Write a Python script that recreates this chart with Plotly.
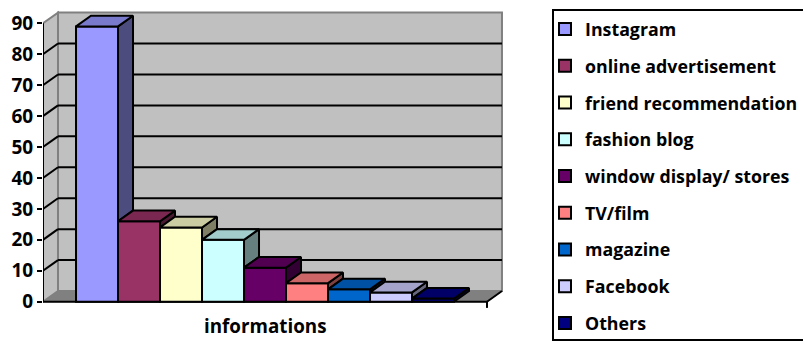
import plotly.graph_objects as go

# ---- data ----
categories = ["Instagram", "online advertisement", "friend recommendation", "fashion blog",
              "window display/ stores", "TV/film", "magazine", "Facebook", "Others"]
values = [89, 26, 24, 20, 11, 6, 4, 3, 1]
colors = ["#9999FF", "#993366", "#FFFFCC", "#CCFFFF", "#660066",
          "#FF8080", "#0066CC", "#CCCCFF", "#000080"]
y_ticks = [0, 10, 20, 30, 40, 50, 60, 70, 80, 90]
x_title = "informations"

# ---- geometry (axis units) ----
FLOOR_W = 10.571      # floor width in bar-width units
FIRST = 0.786         # left edge of first bar
DX = 0.357            # depth offset in x units
DY = 3.46             # depth offset in y units
YMAX = 90

FONT = "Open Sans"

# plot area in pixels (for paper-coordinate conversions)
ML, MT, PW, PH = 43, 10, 462, 300


def px_x(p):
    return (p - ML) / PW


def px_y(p):
    return 1 - (p - MT) / PH


def shade(hex_color, f):
    h = hex_color.lstrip("#")
    r, g, b = (int(h[i:i + 2], 16) for i in (0, 2, 4))
    return "#%02X%02X%02X" % (int(r * f), int(g * f), int(b * f))


fig = go.Figure()

# front faces as bars
for i, (cat, v, c) in enumerate(zip(categories, values, colors)):
    fig.add_trace(go.Bar(
        x=[FIRST + i + 0.5], y=[v], width=[1.0], name=cat,
        marker=dict(color=c, line=dict(color="black", width=2)),
        legendgroup=cat, hoverinfo="name+y",
    ))

# side and top faces (computed from values)
for i, (v, c) in enumerate(zip(values, colors)):
    left = FIRST + i
    right = left + 1
    nv = values[i + 1] if i + 1 < len(values) else 0
    if nv < v:
        fig.add_trace(go.Scatter(
            x=[right, right, right + DX, right + DX, right],
            y=[nv, v, v + DY, nv + DY, nv],
            fill="toself", fillcolor=shade(c, 0.5), mode="lines",
            line=dict(color="black", width=2), showlegend=False, hoverinfo="skip"))
    fig.add_trace(go.Scatter(
        x=[left, right, right + DX, left + DX, left],
        y=[v, v, v + DY, v + DY, v],
        fill="toself", fillcolor=shade(c, 0.8), mode="lines",
        line=dict(color="black", width=2), showlegend=False, hoverinfo="skip"))

shapes = []
# floor
shapes.append(dict(type="path", layer="below", xref="x", yref="y",
                   path=f"M0,0 L{FLOOR_W},0 L{FLOOR_W + DX},{DY} L{DX},{DY} Z",
                   fillcolor="#808080", line=dict(color="#808080", width=1)))
# back wall
shapes.append(dict(type="path", layer="below", xref="x", yref="y",
                   path=f"M{DX},{DY} L{DX + FLOOR_W},{DY} L{DX + FLOOR_W},{YMAX + DY} L{DX},{YMAX + DY} Z",
                   fillcolor="#C0C0C0", line=dict(color="#808080", width=2)))
# side wall
shapes.append(dict(type="path", layer="below", xref="x", yref="y",
                   path=f"M0,0 L{DX},{DY} L{DX},{YMAX + DY} L0,{YMAX} Z",
                   fillcolor="#C0C0C0", line=dict(color="#808080", width=2)))
# gridlines on back wall and side wall
for t in y_ticks[1:-1]:
    shapes.append(dict(type="line", layer="below", xref="x", yref="y",
                       x0=DX, x1=DX + FLOOR_W, y0=t + DY, y1=t + DY,
                       line=dict(color="black", width=2)))
    shapes.append(dict(type="line", layer="below", xref="x", yref="y",
                       x0=0, x1=DX, y0=t, y1=t + DY,
                       line=dict(color="black", width=2)))
# axes edges
shapes.append(dict(type="line", layer="below", xref="x", yref="y",
                   x0=0, x1=FLOOR_W, y0=0, y1=0, line=dict(color="black", width=2)))
shapes.append(dict(type="line", layer="below", xref="x", yref="y",
                   x0=FLOOR_W, x1=FLOOR_W + DX, y0=0, y1=DY, line=dict(color="black", width=2)))
shapes.append(dict(type="line", layer="below", xref="x", yref="y",
                   x0=FLOOR_W, x1=FLOOR_W, y0=0, y1=-2.0, line=dict(color="black", width=2)))
shapes.append(dict(type="line", layer="above", xref="x", yref="y",
                   x0=0, x1=0, y0=0, y1=YMAX, line=dict(color="black", width=2)))
# legend frame
shapes.append(dict(type="rect", layer="below", xref="paper", yref="paper",
                   x0=px_x(553), x1=px_x(812), y0=px_y(340), y1=px_y(10),
                   fillcolor="white", line=dict(color="black", width=2)))

fig.update_layout(
    width=803, height=343,
    margin=dict(l=ML, r=803 - ML - PW, t=MT, b=343 - MT - PH, autoexpand=False),
    paper_bgcolor="white", plot_bgcolor="white",
    barmode="overlay",
    showlegend=True,
    xaxis=dict(range=[0, 11], visible=False, fixedrange=True),
    yaxis=dict(range=[-2.68, 94.30], tickvals=y_ticks, ticktext=[str(t) for t in y_ticks],
               showgrid=False, zeroline=False, showline=False,
               ticks="outside", ticklen=5, tickwidth=2, tickcolor="black",
               tickfont=dict(family=FONT, size=19, color="black", weight="bold"),
               fixedrange=True),
    legend=dict(x=px_x(545), y=px_y(11), xanchor="left", yanchor="top",
                bgcolor="rgba(0,0,0,0)", borderwidth=0, maxheight=600,
                font=dict(family=FONT, size=17.8, color="black", weight="bold"),
                tracegroupgap=10.6, traceorder="grouped"),
    shapes=shapes,
    annotations=[dict(text=x_title, xref="x", yref="paper", x=FLOOR_W / 2, y=px_y(326),
                      showarrow=False, xanchor="center", yanchor="middle",
                      font=dict(family=FONT, size=18.8, color="black", weight="bold"))],
)

fig.write_html("out.html")
